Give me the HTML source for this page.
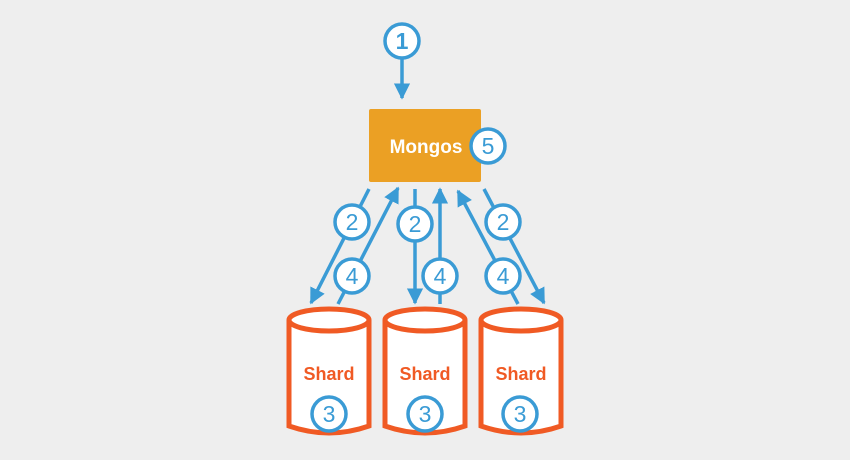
<!DOCTYPE html>
<html><head><style>body{margin:0;background:#eeeeee}svg{display:block}</style></head><body>
<svg width="850" height="460" xmlns="http://www.w3.org/2000/svg">
<defs>
<marker id="a" viewBox="0 0 10 10" refX="9" refY="5" markerWidth="4.6" markerHeight="4.6" markerUnits="strokeWidth" orient="auto"><path d="M0,0L10,5L0,10z" fill="#3a9bd5"/></marker>
</defs>
<rect width="850" height="460" fill="#eeeeee"/>
<g stroke="#3a9bd5" stroke-width="3.5" fill="none" marker-end="url(#a)">
<line x1="402" y1="55" x2="402" y2="98"/>
<line x1="369" y1="189" x2="311" y2="303"/>
<line x1="338" y1="304" x2="398" y2="188"/>
<line x1="415" y1="189" x2="415" y2="303"/>
<line x1="440" y1="304" x2="440" y2="189"/>
<line x1="518" y1="304" x2="458" y2="191"/>
<line x1="484" y1="189" x2="544" y2="303"/>
</g>
<rect x="369" y="109" width="112" height="73" rx="2" fill="#eba024"/>
<text x="426" y="153" font-family="Liberation Sans, sans-serif" font-weight="bold" font-size="19" fill="#fff" text-anchor="middle">Mongos</text>
<g stroke="#f05a24" stroke-width="5" fill="#fff">
<path d="M289,320 V426 Q329,440 369,426 V320"/>
<ellipse cx="329" cy="320" rx="40" ry="11"/>
<path d="M385,320 V426 Q425,440 465,426 V320"/>
<ellipse cx="425" cy="320" rx="40" ry="11"/>
<path d="M481,320 V426 Q521,440 561,426 V320"/>
<ellipse cx="521" cy="320" rx="40" ry="11"/>
</g>
<g font-family="Liberation Sans, sans-serif" font-weight="bold" font-size="18" fill="#f05a24" text-anchor="middle">
<text x="329" y="380">Shard</text><text x="425" y="380">Shard</text><text x="521" y="380">Shard</text>
</g>
<g stroke="#3a9bd5" stroke-width="3.5" fill="#fff">
<circle cx="402" cy="41" r="17"/><circle cx="488" cy="146" r="17"/>
<circle cx="352" cy="222" r="17"/><circle cx="352" cy="276" r="17"/>
<circle cx="415" cy="224" r="17"/><circle cx="440" cy="276" r="17"/>
<circle cx="503" cy="222" r="17"/><circle cx="503" cy="276" r="17"/>
<circle cx="329" cy="414" r="17"/><circle cx="425" cy="414" r="17"/><circle cx="520" cy="414" r="17"/>
</g>
<g font-family="Liberation Sans, sans-serif" font-size="23" fill="#3a9bd5" text-anchor="middle">
<text x="402" y="49" font-weight="bold">1</text><text x="488" y="154">5</text>
<text x="352" y="230">2</text><text x="352" y="284">4</text>
<text x="415" y="232">2</text><text x="440" y="284">4</text>
<text x="503" y="230">2</text><text x="503" y="284">4</text>
<text x="329" y="422">3</text><text x="425" y="422">3</text><text x="520" y="422">3</text>
</g>
</svg>
</body></html>
